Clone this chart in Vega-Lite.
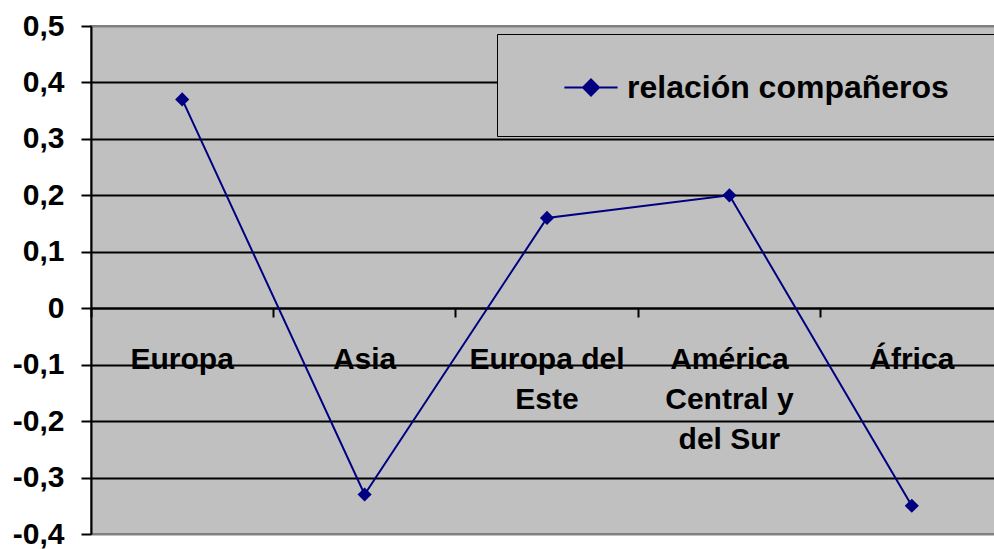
{
  "$schema": "https://vega.github.io/schema/vega-lite/v6.json",
  "width": 912,
  "height": 508,
  "autosize": {"type": "none"},
  "padding": {"left": 91, "top": 26, "right": 0, "bottom": 15},
  "background": "white",
  "config": {
    "view": {"fill": "#C0C0C0", "stroke": "#808080", "strokeWidth": 2},
    "font": "Liberation Sans"
  },
  "data": {
    "values": [
      {"region": "Europa", "valor": 0.37, "serie": "relación compañeros"},
      {"region": "Asia", "valor": -0.33, "serie": "relación compañeros"},
      {"region": "Europa del Este", "valor": 0.16, "serie": "relación compañeros"},
      {"region": "América Central y del Sur", "valor": 0.2, "serie": "relación compañeros"},
      {"region": "África", "valor": -0.35, "serie": "relación compañeros"}
    ]
  },
  "mark": {
    "type": "line",
    "strokeWidth": 2,
    "point": {"shape": "diamond", "filled": true, "size": 200, "color": "#000080"}
  },
  "encoding": {
    "x": {
      "field": "region",
      "type": "nominal",
      "sort": null,
      "scale": {"type": "band", "paddingInner": 0, "paddingOuter": 0},
      "axis": {
        "orient": "bottom",
        "offset": -226,
        "title": null,
        "grid": false,
        "domainColor": "black",
        "domainWidth": 2,
        "tickColor": "black",
        "tickWidth": 2,
        "tickSize": 9,
        "bandPosition": 0,
        "labelPadding": 27,
        "labelAngle": 0,
        "labelAlign": "center",
        "labelBaseline": "top",
        "labelFontSize": 30,
        "labelFontWeight": "bold",
        "labelColor": "black",
        "labelLineHeight": 40,
        "labelLimit": 0,
        "labelOverlap": false,
        "labelExpr": "datum.value == 'Europa del Este' ? ['Europa del', 'Este'] : datum.value == 'América Central y del Sur' ? ['América', 'Central y', 'del Sur'] : datum.label"
      }
    },
    "y": {
      "field": "valor",
      "type": "quantitative",
      "scale": {"domain": [-0.4, 0.5], "nice": false, "zero": false},
      "axis": {
        "title": null,
        "values": [-0.4, -0.3, -0.2, -0.1, 0, 0.1, 0.2, 0.3, 0.4, 0.5],
        "domainColor": "black",
        "domainWidth": 2,
        "tickColor": "black",
        "tickWidth": 2,
        "tickSize": 10,
        "labelPadding": 17,
        "labelFontSize": 30,
        "labelFontWeight": "bold",
        "labelColor": "black",
        "labelOverlap": false,
        "labelFlush": false,
        "grid": true,
        "gridColor": {"condition": {"test": "datum.value > 0.45 || datum.value < -0.35", "value": "#808080"}, "value": "black"},
        "gridWidth": 2,
        "gridOpacity": 1,
        "labelExpr": "datum.value == 0 ? '0' : replace(toString(round(datum.value * 10) / 10), '.', ',')"
      }
    },
    "color": {
      "field": "serie",
      "type": "nominal",
      "scale": {"range": ["#000080"]},
      "legend": {
        "orient": "none",
        "legendX": 406,
        "legendY": 8,
        "title": null,
        "padding": 32.5,
        "fillColor": "#C0C0C0",
        "strokeColor": "black",
        "symbolType": "M-1.33,0H1.33M0,-0.4L0.4,0L0,0.4L-0.4,0Z",
        "symbolSize": 1600,
        "symbolStrokeWidth": 2,
        "symbolFillColor": "#000080",
        "symbolStrokeColor": "#000080",
        "symbolOffset": 40.5,
        "labelOffset": 15,
        "labelFontSize": 32,
        "labelFontWeight": "bold",
        "labelColor": "black",
        "labelLimit": 0,
        "labelExpr": "datum.label + '\u2800\u2800'"
      }
    }
  }
}
